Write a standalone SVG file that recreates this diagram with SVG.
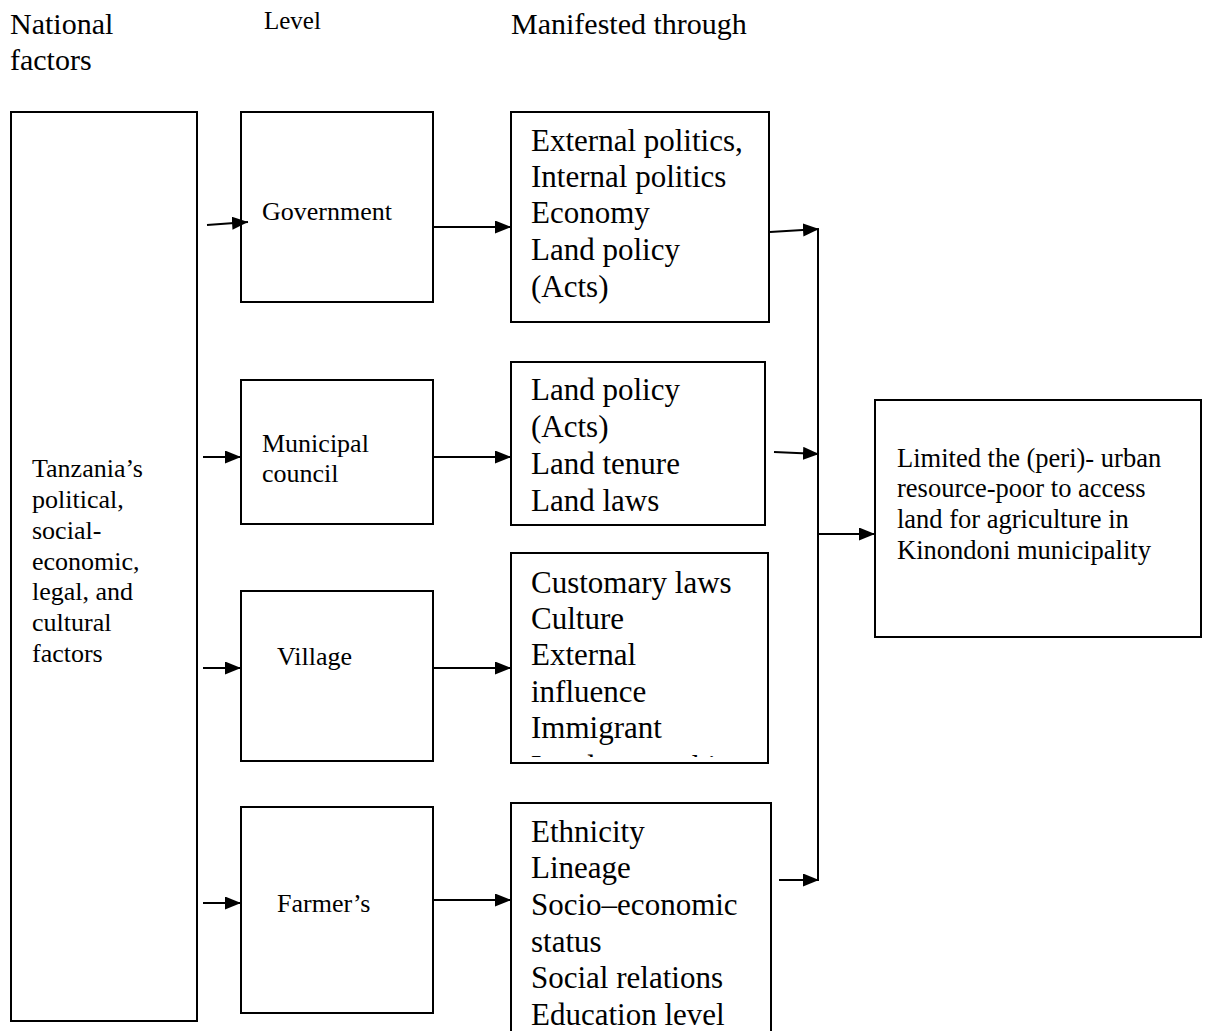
<svg xmlns="http://www.w3.org/2000/svg" width="1206" height="1031" viewBox="0 0 1206 1031">
<style>
  .box { fill: #fff; stroke: #000; stroke-width: 2; }
  .t { font-family: "Liberation Serif", "Times New Roman", serif; fill: #000; }
  .hd { font-size: 30px; }
  .lv { font-size: 25px; }
  .sm { font-size: 26px; }
  .bg { font-size: 31px; }
  .rt { font-size: 26.5px; }
  .con { fill: none; stroke: #000; stroke-width: 2; }
  .arr { fill: none; stroke: #000; stroke-width: 2; marker-end: url(#ah); }
</style>
<defs>
  <marker id="ah" markerUnits="userSpaceOnUse" markerWidth="17" markerHeight="14" refX="16" refY="6.5" orient="auto">
    <path d="M0,0 L16,6.5 L0,13 z" fill="#000"/>
  </marker>
  <clipPath id="clipV"><rect x="512" y="554" width="255" height="203"/></clipPath>
</defs>
<rect width="1206" height="1031" fill="#fff"/>

<g id="headers">
  <text class="t hd" x="10" y="34">National</text>
  <text class="t hd" x="10" y="70">factors</text>
  <text class="t lv" x="264" y="29">Level</text>
  <text class="t hd" x="511" y="34">Manifested through</text>
</g>

<g id="national">
  <rect class="box" x="11" y="112" width="186" height="909"/>
  <text class="t sm" x="32"><tspan x="32" y="477">Tanzania’s</tspan><tspan x="32" y="508">political,</tspan><tspan x="32" y="539">social-</tspan><tspan x="32" y="570">economic,</tspan><tspan x="32" y="600">legal, and</tspan><tspan x="32" y="631">cultural</tspan><tspan x="32" y="662">factors</tspan></text>
</g>

<g id="government">
  <rect class="box" x="241" y="112" width="192" height="190"/>
  <text class="t sm" x="262" y="220">Government</text>
</g>
<g id="municipal">
  <rect class="box" x="241" y="380" width="192" height="144"/>
  <text class="t sm"><tspan x="262" y="452">Municipal</tspan><tspan x="262" y="482">council</tspan></text>
</g>
<g id="village">
  <rect class="box" x="241" y="591" width="192" height="170"/>
  <text class="t sm" x="277" y="665">Village</text>
</g>
<g id="farmer">
  <rect class="box" x="241" y="807" width="192" height="206"/>
  <text class="t sm" x="277" y="912">Farmer’s</text>
</g>

<g id="manif-government">
  <rect class="box" x="511" y="112" width="258" height="210"/>
  <text class="t bg"><tspan x="531" y="151">External politics,</tspan><tspan x="531" y="187">Internal politics</tspan><tspan x="531" y="223">Economy</tspan><tspan x="531" y="260">Land policy</tspan><tspan x="531" y="297">(Acts)</tspan></text>
</g>
<g id="manif-municipal">
  <rect class="box" x="511" y="362" width="254" height="163"/>
  <text class="t bg"><tspan x="531" y="400">Land policy</tspan><tspan x="531" y="437">(Acts)</tspan><tspan x="531" y="474">Land tenure</tspan><tspan x="531" y="511">Land laws</tspan></text>
</g>
<g id="manif-village">
  <rect class="box" x="511" y="553" width="257" height="210"/>
  <text class="t bg" clip-path="url(#clipV)"><tspan x="531" y="593">Customary laws</tspan><tspan x="531" y="629">Culture</tspan><tspan x="531" y="665">External</tspan><tspan x="531" y="702">influence</tspan><tspan x="531" y="738">Immigrant</tspan><tspan x="531" y="777">Land ownership</tspan></text>
</g>
<g id="manif-farmer">
  <rect class="box" x="511" y="803" width="260" height="240"/>
  <text class="t bg"><tspan x="531" y="842">Ethnicity</tspan><tspan x="531" y="878">Lineage</tspan><tspan x="531" y="915">Socio–economic</tspan><tspan x="531" y="952">status</tspan><tspan x="531" y="988">Social relations</tspan><tspan x="531" y="1025">Education level</tspan></text>
</g>

<g id="outcome">
  <rect class="box" x="875" y="400" width="326" height="237"/>
  <text class="t rt"><tspan x="897" y="467">Limited the (peri)- urban</tspan><tspan x="897" y="497">resource-poor to access</tspan><tspan x="897" y="528">land for agriculture in</tspan><tspan x="897" y="559">Kinondoni municipality</tspan></text>
</g>

<g id="connectors">
  <line class="arr" x1="207" y1="225" x2="248" y2="222"/>
  <line class="arr" x1="203" y1="457" x2="241" y2="457"/>
  <line class="arr" x1="203" y1="668" x2="241" y2="668"/>
  <line class="arr" x1="203" y1="903" x2="241" y2="903"/>
  <line class="arr" x1="433" y1="227" x2="511" y2="227"/>
  <line class="arr" x1="433" y1="457" x2="511" y2="457"/>
  <line class="arr" x1="433" y1="668" x2="511" y2="668"/>
  <line class="arr" x1="433" y1="900" x2="511" y2="900"/>
  <line class="arr" x1="770" y1="232" x2="819" y2="229"/>
  <line class="arr" x1="774" y1="452" x2="819" y2="454"/>
  <line class="arr" x1="779" y1="880" x2="819" y2="880"/>
  <line class="con" x1="818" y1="229" x2="818" y2="881"/>
  <line class="arr" x1="818" y1="534" x2="875" y2="534"/>
</g>
</svg>
